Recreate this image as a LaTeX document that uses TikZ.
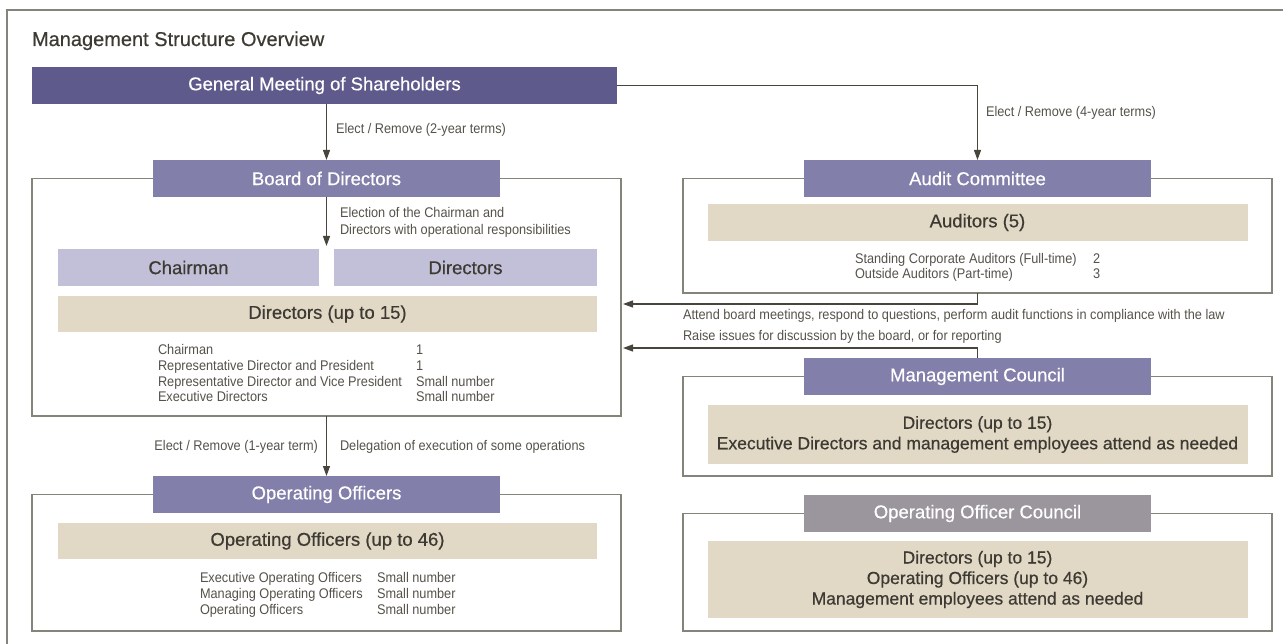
\documentclass[tikz,border=0pt]{standalone}
\usepackage{fontspec}
\setmainfont{Liberation Sans}
\newfontfamily\condfont[FakeStretch=0.91]{Liberation Sans}
\newfontfamily\medfont[FakeBold=0.5]{Liberation Sans}
\usetikzlibrary{arrows.meta}
\definecolor{gmcol}{HTML}{5E5B8C}
\definecolor{hdcol}{HTML}{8280AB}
\definecolor{lavcol}{HTML}{C2BFD8}
\definecolor{beigecol}{HTML}{E1D8C5}
\definecolor{greyhd}{HTML}{9B959D}
\definecolor{framecol}{HTML}{85847B}
\definecolor{arrcol}{HTML}{48453C}
\definecolor{txtcol}{HTML}{3D3A33}
\definecolor{smallcol}{HTML}{55524A}
\tikzset{
  every node/.style={inner sep=0pt, outer sep=0pt},
  frame/.style={draw=framecol, line width=1.2pt, fill=white},
  bigfont/.style={font=\medfont\fontsize{18.5}{21}\selectfont},
  gmbox/.style={fill=gmcol, text=white, bigfont},
  hdbox/.style={fill=hdcol, text=white, bigfont},
  greybox/.style={fill=greyhd, text=white, bigfont},
  lavbox/.style={fill=lavcol, text=txtcol, bigfont},
  beigebox/.style={fill=beigecol, text=txtcol, bigfont, align=center},
  rbeige/.style={fill=beigecol, text=txtcol, font=\medfont\fontsize{17.5}{20.5}\selectfont, align=center},
  small/.style={text=smallcol, font=\condfont\fontsize{14}{17}\selectfont},
  conn/.style={draw=arrcol, line width=1.2pt},
  arr/.style={conn, -{Triangle[length=10pt,width=7pt]}},
}
\begin{document}
\begin{tikzpicture}[x=1pt,y=-1pt]
\useasboundingbox (0,0) rectangle (1283,644);
\clip (0,0) rectangle (1283,644);
% outer frame (clipped at the right and bottom)
\draw[framecol, line width=1.2pt] (7,700) -- (7,10) -- (1300,10);

\node[anchor=base west, text=txtcol, font=\medfont\fontsize{20}{24}\selectfont] (title) at (32,46) {Management Structure Overview};

% General meeting
\node[gmbox, minimum width=585pt, minimum height=37pt] (gm) at (324.5,85.5) {General Meeting of Shareholders};

% ---------- left column ----------
\node[frame, minimum width=589pt, minimum height=237.5pt] (bframe) at (326.5,297.25) {};
\node[hdbox, minimum width=347pt, minimum height=37pt] (board) at (326.5,178.5) {Board of Directors};
\node[lavbox, minimum width=261pt, minimum height=37pt] (chair) at (188.5,267.5) {Chairman};
\node[lavbox, minimum width=263pt, minimum height=37pt] (dirs) at (465.5,267.5) {Directors};
\node[beigebox, minimum width=539pt, minimum height=36pt] (dir15) at (327.5,314) {Directors (up to 15)};
\foreach \t/\v [count=\i] in {Chairman/1, Representative Director and President/1, Representative Director and Vice President/Small number, Executive Directors/Small number}{
  \node[small, anchor=base west] (bn\i) at (158,{355+15.5*(\i-1)}) {\t};
  \node[small, anchor=base west] (bv\i) at (416,{355+15.5*(\i-1)}) {\v};
}
\coordinate (cdgap) at (326.5,246);
\draw[arr] (board.south) -- (cdgap);
\node[small, anchor=west, align=left] (elab) at (340,222) {Election of the Chairman and\\Directors with operational responsibilities};
\draw[arr] (gm.south -| board.north) -- (board.north);
\node[small, anchor=west] (lab2) at (336,130) {Elect / Remove (2-year terms)};

\node[frame, minimum width=589pt, minimum height=136.5pt] (oframe) at (326.5,562.75) {};
\node[hdbox, minimum width=347pt, minimum height=37pt] (ophead) at (326.5,494.5) {Operating Officers};
\node[beigebox, minimum width=539pt, minimum height=36pt] (op46) at (327.5,541) {Operating Officers (up to 46)};
\foreach \t [count=\i] in {Executive Operating Officers, Managing Operating Officers, Operating Officers}{
  \node[small, anchor=base west] (on\i) at (200,{582+16*(\i-1)}) {\t};
  \node[small, anchor=base west] (ov\i) at (377,{582+16*(\i-1)}) {Small number};
}
\draw[arr] (bframe.south -| ophead.north) -- (ophead.north);
\node[small, anchor=east] (lab1y) at (318,447) {Elect / Remove (1-year term)};
\node[small, anchor=west] (labdel) at (340,447) {Delegation of execution of some operations};

% ---------- right column ----------
\node[frame, minimum width=589pt, minimum height=114.5pt] (aframe) at (977.5,235.75) {};
\node[hdbox, minimum width=347pt, minimum height=37pt] (audit) at (977.5,178.5) {Audit Committee};
\node[beigebox, minimum width=540pt, minimum height=37pt] (aud5) at (977.5,222.5) {Auditors (5)};
\node[small, anchor=base west] (an1) at (855,263.5) {Standing Corporate Auditors (Full-time)};
\node[small, anchor=base west] (av1) at (1093,263.5) {2};
\node[small, anchor=base west] (an2) at (855,278.5) {Outside Auditors (Part-time)};
\node[small, anchor=base west] (av2) at (1093,278.5) {3};
\draw[arr] (gm.east) -| (audit.north);
\node[small, anchor=west] (lab4) at (986,113) {Elect / Remove (4-year terms)};

\node[frame, minimum width=589pt, minimum height=99.5pt] (mframe) at (977.5,426.25) {};
\node[hdbox, minimum width=347pt, minimum height=37pt] (mgmt) at (977.5,376.5) {Management Council};
\node[rbeige, minimum width=540pt, minimum height=59pt] (mbeige) at (977.5,434.5) {Directors (up to 15)\\Executive Directors and management employees attend as needed};

\coordinate (in1) at (623,304);
\coordinate (in2) at (623,348);
\draw[arr] (aframe.south) |- (in1);
\draw[arr] (mgmt.north) |- (in2);
\node[small, anchor=west] (labatt) at (683,316) {Attend board meetings, respond to questions, perform audit functions in compliance with the law};
\node[small, anchor=west] (labraise) at (683,337) {Raise issues for discussion by the board, or for reporting};

\node[frame, minimum width=589pt, minimum height=117.5pt] (ocframe) at (977.5,572.25) {};
\node[greybox, minimum width=347pt, minimum height=37pt] (oocouncil) at (977.5,513.5) {Operating Officer Council};
\node[rbeige, minimum width=540pt, minimum height=77pt] (ocbeige) at (977.5,579.5) {Directors (up to 15)\\Operating Officers (up to 46)\\Management employees attend as needed};
\end{tikzpicture}
\end{document}
